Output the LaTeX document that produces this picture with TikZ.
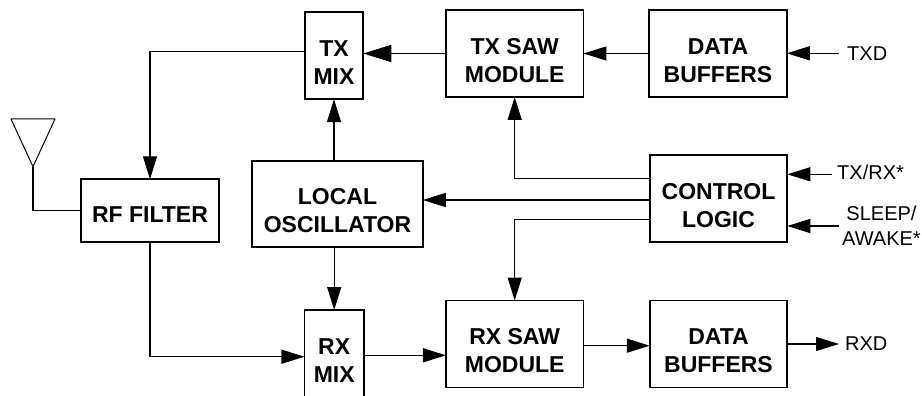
\documentclass[tikz,border=0pt]{standalone}
\usepackage{fontspec}
\setmainfont{Liberation Sans}
\usetikzlibrary{arrows.meta}

\tikzset{
    blockbox/.style={draw, line width=1.9pt, outer sep=0pt, inner sep=0pt, align=center, font=\fontsize{23}{28}\selectfont\bfseries},
    twoline/.style={blockbox, execute at begin node=\rule{0pt}{57.5pt}},
    widebox/.style={twoline, minimum width=137.5pt, minimum height=87pt},
    mixbox/.style={twoline, minimum width=58.5pt, minimum height=87pt},
    signal/.style={line width=1.3pt, -{Triangle[length=23pt,width=14pt]}},
    bigsignal/.style={line width=1.3pt, -{Triangle[length=28pt,width=17pt]}},
    wire/.style={line width=1.3pt},
    pinlabel/.style={inner sep=0pt, align=center, font=\fontsize{20}{25}\selectfont},
}

\begin{document}
\begin{tikzpicture}[x=1pt,y=-1pt]
    \path[use as bounding box, clip] (0,0) rectangle (922,396);
    \node[mixbox] (txmix) at (334,55.7) {TX\\MIX};
    \node[widebox] (txsaw) at (514.7,53.5) {TX SAW\\MODULE};
    \node[widebox] (txbuf) at (718,53.5) {DATA\\BUFFERS};
    \node[widebox] (ctrl) at (718.5,198.8) {CONTROL\\LOGIC};
    \node[twoline, minimum width=170.5pt, minimum height=86pt] (osc) at (337.5,204.3) {LOCAL\\OSCILLATOR};
    \node[blockbox, minimum width=137.5pt, minimum height=62.5pt, execute at begin node=\rule{0pt}{24.5pt}] (rffilter) at (150,210.5) {RF FILTER};
    \node[widebox] (rxsaw) at (514.7,344) {RX SAW\\MODULE};
    \node[widebox] (rxbuf) at (718.5,344) {DATA\\BUFFERS};
    % bottom edge falls outside the page
    \node[mixbox, minimum width=59.5pt, anchor=north] (rxmix) at (334.2,310) {RX\\MIX};

    \coordinate (ant) at (33,166.7);
    \draw[line width=1pt, line join=round] (11,119) -- (55,119) -- (ant) -- cycle;
    \draw[wire] (ant) |- (rffilter.west);

    \node[pinlabel, anchor=west] (txd) at (847,53.5) {TXD};
    \node[pinlabel, anchor=west] (txrx) at (837,172) {TX/RX*};
    \node[pinlabel] (sleep) at (881.5,226) {SLEEP/\\AWAKE*};
    \node[pinlabel, anchor=west] (rxd) at (845,343.5) {RXD};
    \coordinate (txdend) at (839,53.3);
    \coordinate (txrxend) at (831.5,174.3);
    \coordinate (sleepend) at (839,226);
    \coordinate (rxdend) at (839,344);

    \draw[signal] (txdend) -- (txbuf.east |- txdend);
    \draw[signal] (txbuf.west) -- (txsaw.east);
    \draw[bigsignal] (txsaw.west) -- (txmix.east |- txsaw.west);
    \draw[signal] (txmix.west |- 0,51.7) -| (rffilter.north);
    \draw[signal] (osc.north -| txmix.south) -- (txmix.south);
    \draw[signal] (osc.south -| rxmix.north) -- (rxmix.north);
    \draw[signal] (rffilter.south) |- (rxmix.west |- 0,356.7);
    \draw[signal] (rxmix.east |- 0,355.3) -- (rxsaw.west |- 0,355.3);
    \draw[signal] (rxsaw.east |- 0,345.7) -- (rxbuf.west |- 0,345.7);
    \draw[signal] (rxbuf.east) -- (rxdend);
    \draw[signal] (ctrl.west |- 0,178.3) -| (txsaw.south);
    \draw[signal] (ctrl.west |- 0,200) -- (osc.east |- 0,200);
    \draw[signal] (ctrl.west |- 0,219.3) -| (rxsaw.north);
    \draw[signal] (txrxend) -- (ctrl.east |- txrxend);
    \draw[signal] (sleepend) -- (ctrl.east |- sleepend);
\end{tikzpicture}
\end{document}
